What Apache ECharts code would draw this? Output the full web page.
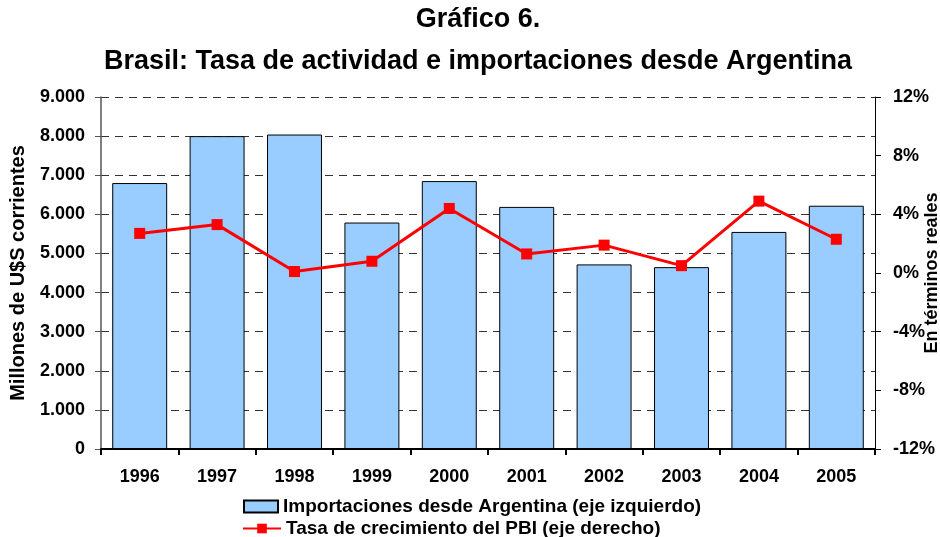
<!DOCTYPE html>
<html>
<head>
    <meta charset="utf-8">
    <title>Gráfico 6</title>
    <script src="https://cdn.jsdelivr.net/npm/echarts@6/dist/echarts.min.js"></script>
    <style>
        html, body { margin: 0; padding: 0; background: #fff; }
        #chart1 { width: 940px; height: 537px; }
    </style>
</head>
<body>
<div id="chart1"></div>
<script type="text/javascript">
    // datos
    var years = ['1996', '1997', '1998', '1999', '2000', '2001', '2002', '2003', '2004', '2005'];
    var importaciones = [6800, 8000, 8040, 5790, 6850, 6190, 4720, 4650, 5550, 6220];
    var pbi = [2.7, 3.3, 0.1, 0.8, 4.4, 1.3, 1.9, 0.5, 4.9, 2.3];

    var serieBarras = 'Importaciones desde Argentina (eje izquierdo)';
    var serieLinea = 'Tasa de crecimiento del PBI (eje derecho)';

    var font = '"Liberation Sans", Arial, sans-serif';

    function miles(v) {
        return String(v).replace(/\B(?=(\d{3})+(?!\d))/g, '.');
    }

    var textoLeyenda = {
        fontFamily: font,
        fontWeight: 'bold',
        fontSize: 19,
        color: '#000'
    };

    var myChart1 = echarts.init(document.getElementById('chart1'));

    myChart1.setOption({
        animation: false,
        backgroundColor: '#fff',
        title: {
            text: 'Gráfico 6.\nBrasil: Tasa de actividad e importaciones desde Argentina',
            left: 473,
            textAlign: 'center',
            top: -6,
            textStyle: {
                fontFamily: font,
                fontWeight: 'bold',
                fontSize: 27,
                lineHeight: 42,
                color: '#000'
            }
        },
        legend: [
            {
                left: 238,
                top: 492,
                itemWidth: 34,
                itemHeight: 12,
                textStyle: textoLeyenda,
                data: [{ name: serieBarras, icon: 'rect' }]
            },
            {
                left: 237,
                top: 514,
                itemWidth: 38,
                itemHeight: 12,
                textStyle: textoLeyenda,
                data: [{ name: serieLinea }]
            }
        ],
        grid: {
            left: 101,
            right: 65,
            top: 97,
            bottom: 88,
            outerBoundsMode: 'none'
        },
        xAxis: {
            type: 'category',
            data: years,
            axisLine: { lineStyle: { color: '#000', width: 2 } },
            axisTick: { show: true, length: 6, lineStyle: { color: '#000', width: 2 } },
            axisLabel: {
                margin: 19,
                fontFamily: font,
                fontWeight: 'bold',
                fontSize: 18,
                color: '#000'
            }
        },
        yAxis: [
            {
                type: 'value',
                min: 0,
                max: 9000,
                interval: 1000,
                name: 'Millones de U$S corrientes',
                nameLocation: 'middle',
                nameGap: 73,
                nameMoveOverlap: false,
                nameTextStyle: {
                    fontFamily: font,
                    fontWeight: 'bold',
                    fontSize: 20,
                    color: '#000'
                },
                axisLine: { show: true, lineStyle: { color: '#555', width: 1.5 } },
                axisTick: { show: true, length: 6, lineStyle: { color: '#555' } },
                axisLabel: {
                    margin: 16,
                    fontFamily: font,
                    fontWeight: 'bold',
                    fontSize: 18,
                    color: '#000',
                    formatter: miles
                },
                splitLine: {
                    show: true,
                    lineStyle: { color: '#333', type: [8, 6], width: 1.2 }
                }
            },
            {
                type: 'value',
                min: -12,
                max: 12,
                interval: 4,
                name: 'En términos reales',
                nameLocation: 'middle',
                nameGap: 48,
                nameMoveOverlap: false,
                nameTextStyle: {
                    fontFamily: font,
                    fontWeight: 'bold',
                    fontSize: 18,
                    color: '#000'
                },
                axisLine: { show: true, lineStyle: { color: '#000', width: 1 } },
                axisTick: { show: true, length: 6, lineStyle: { color: '#000' } },
                axisLabel: {
                    margin: 18,
                    fontFamily: font,
                    fontWeight: 'bold',
                    fontSize: 18,
                    color: '#000',
                    formatter: '{value}%'
                },
                splitLine: { show: false }
            }
        ],
        series: [
            {
                name: serieBarras,
                type: 'bar',
                yAxisIndex: 0,
                data: importaciones,
                barCategoryGap: '29%',
                itemStyle: {
                    color: '#99CCFF',
                    borderColor: '#000',
                    borderWidth: 1
                }
            },
            {
                name: serieLinea,
                type: 'line',
                yAxisIndex: 1,
                data: pbi,
                symbol: 'rect',
                symbolSize: 11,
                lineStyle: { color: '#FF0000', width: 3 },
                itemStyle: { color: '#FF0000' }
            }
        ]
    });
</script>
</body>
</html>
